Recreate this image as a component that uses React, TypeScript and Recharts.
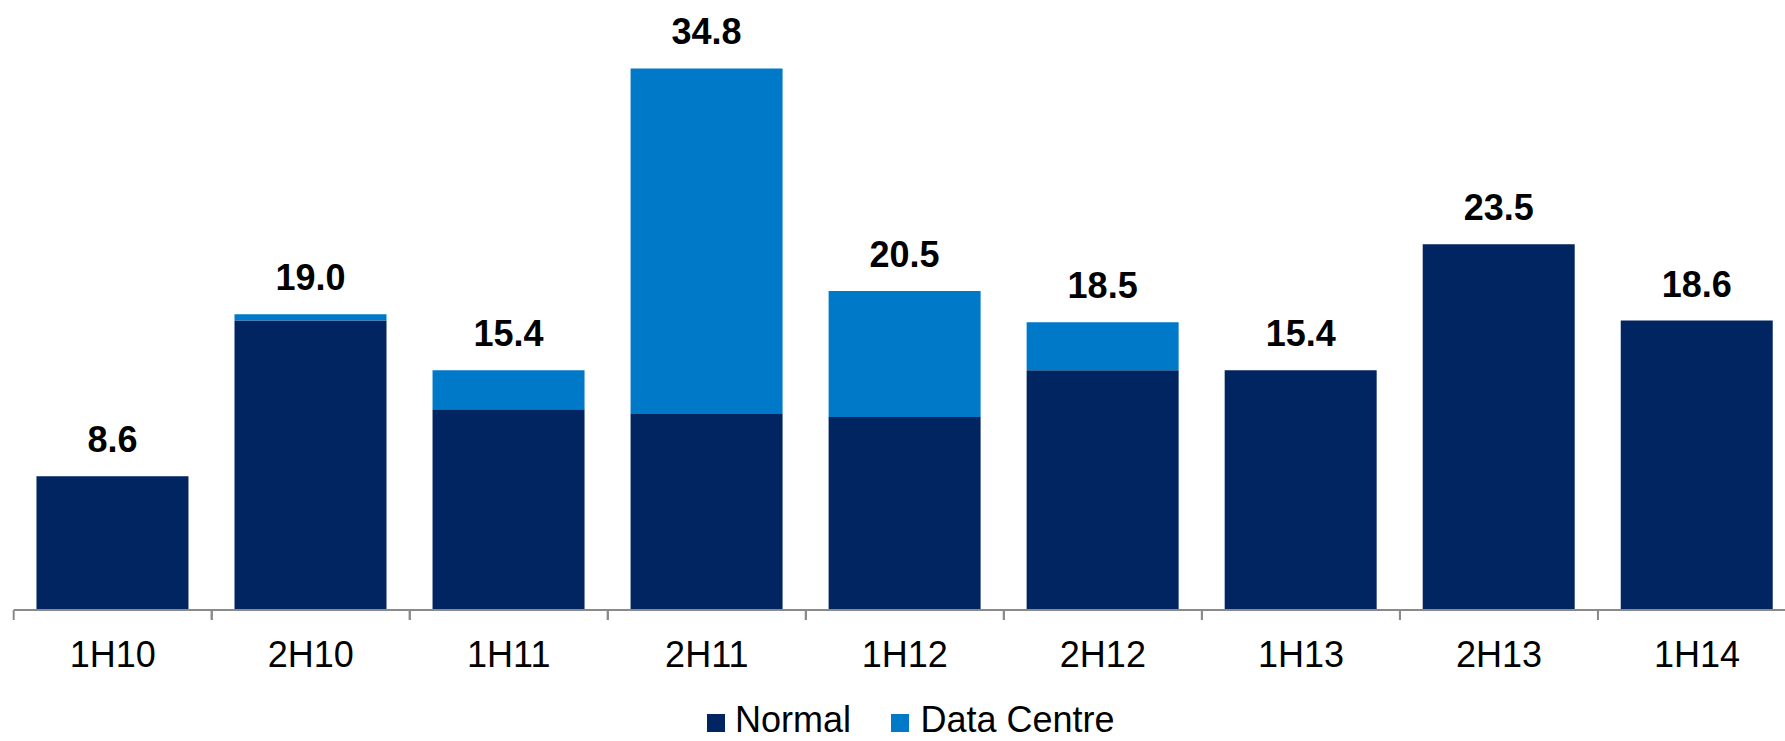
import React from 'react';
import {
  BarChart,
  Bar,
  XAxis,
  YAxis,
  Legend,
  LabelList,
} from 'recharts';

const periods = ['1H10', '2H10', '1H11', '2H11', '1H12', '2H12', '1H13', '2H13', '1H14'];
const normal = [8.6, 18.6, 12.9, 12.6, 12.4, 15.4, 15.4, 23.5, 18.6];
const dataCentre = [0, 0.4, 2.5, 22.2, 8.1, 3.1, 0, 0, 0];

const NAVY = '#002561';
const BLUE = '#0079C8';
const FONT = 'Arial, "Liberation Sans", sans-serif';

const CHART_W = 1796;
const CHART_H = 741;
const LEFT = 13.7;
const BAND = (CHART_W - LEFT) / periods.length;

const chartData = periods.map((p, i) => ({
  period: p,
  normal: normal[i],
  dataCentre: dataCentre[i],
  total: (normal[i] + dataCentre[i]).toFixed(1),
}));

// excel style: tick marks sit between categories, label in the middle
const CategoryTick = (props: any) => {
  const { x, y, payload } = props;
  return (
    <g>
      <line x1={x - BAND / 2} y1={y - 31} x2={x - BAND / 2} y2={y - 21} stroke="#8a8a8a" strokeWidth={2} />
      <line x1={x + BAND / 2} y1={y - 31} x2={x + BAND / 2} y2={y - 21} stroke="#8a8a8a" strokeWidth={2} />
      <text x={x} y={y + 26} textAnchor="middle" fill="#000" fontSize={36} fontFamily={FONT}>
        {payload.value}
      </text>
    </g>
  );
};

// label sits on the Normal bar, lifted by the Data Centre part so it clears the whole stack
const TotalLabel = (props: any) => {
  const { x, y, width, height, index } = props;
  const pxPerUnit = height / normal[index];
  const top = y - dataCentre[index] * pxPerUnit;
  return (
    <text
      x={x + width / 2}
      y={top - 24}
      textAnchor="middle"
      fill="#000"
      fontSize={36}
      fontWeight="bold"
      fontFamily={FONT}
    >
      {chartData[index].total}
    </text>
  );
};

const legendItems = [
  { name: 'Normal', color: NAVY, box: 707, text: 735 },
  { name: 'Data Centre', color: BLUE, box: 891, text: 920.5 },
];

const ChartLegend = () => (
  <div style={{ position: 'relative', height: 41, width: '100%' }}>
    {legendItems.map((item) => (
      <React.Fragment key={item.name}>
        <span
          style={{
            position: 'absolute',
            left: item.box,
            top: 13.5,
            width: 18,
            height: 18,
            background: item.color,
          }}
        />
        <span
          style={{
            position: 'absolute',
            left: item.text,
            top: 5,
            fontSize: 36,
            lineHeight: '30px',
            fontFamily: FONT,
            color: '#000',
            whiteSpace: 'nowrap',
          }}
        >
          {item.name}
        </span>
      </React.Fragment>
    ))}
  </div>
);

const App = () => {
  return (
    <div
      style={{
        position: 'absolute',
        left: 0,
        top: 0,
        width: 1785,
        height: 741,
        overflow: 'hidden',
        background: '#fff',
      }}
    >
      <BarChart
        width={CHART_W}
        height={CHART_H}
        data={chartData}
        margin={{ top: 18.7, right: 0, bottom: 0, left: LEFT }}
        barCategoryGap="11.5%"
      >
        <YAxis hide domain={[0, 38]} />
        <XAxis
          dataKey="period"
          height={90}
          axisLine={{ stroke: '#8a8a8a', strokeWidth: 2 }}
          tickLine={false}
          tickSize={10}
          tickMargin={21}
          interval={0}
          tick={<CategoryTick />}
        />
        <Legend
          verticalAlign="bottom"
          wrapperStyle={{ left: 0, width: CHART_W }}
          content={<ChartLegend />}
        />
        <Bar dataKey="normal" name="Normal" stackId="a" fill={NAVY} isAnimationActive={false}>
          <LabelList dataKey="total" content={<TotalLabel />} />
        </Bar>
        <Bar dataKey="dataCentre" name="Data Centre" stackId="a" fill={BLUE} isAnimationActive={false} />
      </BarChart>
    </div>
  );
};

export default App;
